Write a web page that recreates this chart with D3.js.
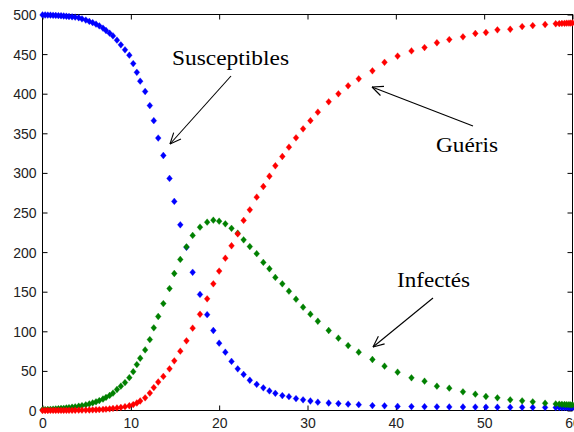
<!DOCTYPE html>
<html><head><meta charset="utf-8">
<script src="https://cdn.jsdelivr.net/npm/d3@7"></script>
<style>body{margin:0;background:#fff}svg{display:block}</style>
</head><body>
<svg id="c" width="574" height="432"></svg>
<script>
const time = [0,0.3,0.6,0.9,1.2,1.5,1.8,2.1,2.4,2.7,3.0,3.35,3.7,4.1,4.47,4.9,5.3,5.68,6.06,6.43,6.85,7.19,7.6,7.98,8.43,8.87,9.34,9.83,10.27,10.68,11.06,11.62,12.15,12.6,13.1,13.68,14.38,14.92,15.6,16.3,17.0,17.83,18.64,19.34,20.0,20.7,21.4,22.1,22.77,23.47,24.25,25.0,25.69,26.36,27.15,27.9,28.7,29.5,30.33,31.17,32.4,33.5,34.6,35.8,37.35,38.72,40.2,41.77,43.25,44.65,46.05,47.6,49.0,50.2,51.5,52.95,54.3,55.5,56.9,58.1,58.5,58.8,59.1,59.35,59.6,59.8,60];
const susceptibles = [499.5,499.4,499.3,499.2,499.0,498.8,498.6,498.4,498.1,497.8,497.5,497.1,496.6,495.9,494.5,493.0,491.3,489.7,487.8,485.7,482.7,479.8,476.4,473,467.6,461.7,455.4,448.6,438,427,415.8,402.8,385,366,344,322,293,264,234.5,206,174.5,146.5,121,101,85,73.6,62,52.6,45.5,38.2,33,28.6,24.7,21.7,18.8,17.5,15,13.5,12,10.5,9.5,8.8,8,7.4,6.2,5.9,5.2,5.0,4.8,4.6,4.5,4.4,4.3,4.2,4.1,4.0,4.0,3.9,3.9,3.8,3.8,3.7,3.7,3.7,3.6,3.6,3.6];
const infectes = [1,1.15,1.3,1.5,1.7,1.9,2.2,2.5,2.8,3.2,3.6,4.1,4.7,5.4,6.2,7.2,8.3,9.6,11,12.5,14.5,16.5,19,21.9,26.5,30.7,35.3,41.5,49,58,66,76.5,89.5,104.4,118.7,135,154,173,190.7,206.7,221,231.5,237.8,240.3,239,235.7,230,223.9,215.5,207,198,187,179,168,160,150.6,140.5,130.4,121.6,112.7,101,91.3,82,73.6,64.4,56,48.4,41.3,37,30.7,28.2,23.6,20.6,17.7,16,13.5,12.2,11,9.2,8.3,8.0,7.8,7.6,7.4,7.3,7.2,7.1];
const gueris = [0,0.01,0.02,0.035,0.05,0.07,0.09,0.11,0.14,0.17,0.2,0.25,0.3,0.37,0.45,0.55,0.65,0.8,0.95,1.15,1.4,1.7,2.1,2.6,3.2,3.9,4.8,6,7.5,9.5,12,16,22,29,36,43,52.6,62.7,74.9,88,104,121.5,141,160,176,192.3,208,223,240,253.4,269.4,282.8,295.8,309,320.7,332.5,344.3,355.6,366,376.7,389.8,399.9,410,418.8,428.9,439.6,447.5,454,458.3,464.3,468.4,471.8,476,477.3,480.6,481.4,484.8,486,487.4,488.3,488.5,488.7,488.9,489,489.1,489.2,489.3];
const xTicks = [0,10,20,30,40,50,60];
const yTicks = [0,50,100,150,200,250,300,350,400,450,500];
const series = [
  {name:"Susceptibles", values:susceptibles, color:"#0000ff"},
  {name:"Infectés", values:infectes, color:"#008000"},
  {name:"Guéris", values:gueris, color:"#ff0000"}
];
const notes = [
  {text:"Susceptibles", tx:172, ty:65, len:117, from:[231,76], to:[170,144]},
  {text:"Guéris", tx:436, ty:152, len:62, from:[473,126], to:[372,87]},
  {text:"Infectés", tx:397, ty:287, len:73, from:[433,298], to:[373,347]}
];

const svg = d3.select("#c");
const L = 42.5, R = 572.5, T = 14.5, B = 410.5;
const x = d3.scaleLinear().domain([0,60]).range([L,R]);
const y = d3.scaleLinear().domain([0,500]).range([B,T]);

svg.append("rect").attr("x",L).attr("y",T).attr("width",R-L).attr("height",B-T)
  .attr("fill","none").attr("stroke","#000").attr("stroke-width",1);

const axFont = "'Liberation Sans', Arial, sans-serif";
const gBottom = svg.append("g").attr("transform",`translate(0,${B})`)
  .call(d3.axisBottom(x).tickValues(xTicks).tickSizeInner(-5).tickSizeOuter(0).tickPadding(7));
const gLeft = svg.append("g").attr("transform",`translate(${L},0)`)
  .call(d3.axisLeft(y).tickValues(yTicks).tickSizeInner(-5).tickSizeOuter(0).tickPadding(6));
const gTop = svg.append("g").attr("transform",`translate(0,${T})`)
  .call(d3.axisTop(x).tickValues(xTicks).tickSizeInner(-5).tickSizeOuter(0).tickFormat(""));
const gRight = svg.append("g").attr("transform",`translate(${R},0)`)
  .call(d3.axisRight(y).tickValues(yTicks).tickSizeInner(-5).tickSizeOuter(0).tickFormat(""));
[gBottom,gLeft,gTop,gRight].forEach(g=>{
  g.select(".domain").remove();
  g.selectAll("line").attr("stroke","#000");
  g.selectAll("text").attr("font-family",axFont).attr("font-size",14).attr("fill","#222");
});
gLeft.selectAll("text").attr("dy","0.36em");
gBottom.selectAll("text").attr("dy","0.72em");

const diamond = "M0,-3.4L2.9,0L0,3.4L-2.9,0Z";
series.forEach(s=>{
  svg.append("g").selectAll("path").data(time.map((t,i)=>[t,s.values[i]])).join("path")
    .attr("d",diamond)
    .attr("transform",d=>`translate(${x(d[0])},${y(d[1])})`)
    .attr("fill",s.color).attr("stroke",s.color).attr("stroke-width",0.6).attr("stroke-opacity",0.5);
});

const serif = "'Liberation Serif', 'DejaVu Serif', serif";
notes.forEach(n=>{
  svg.append("text").attr("x",n.tx).attr("y",n.ty).text(n.text)
    .attr("font-family",serif).attr("font-size",21).attr("fill","#000")
    .attr("textLength",n.len).attr("lengthAdjust","spacingAndGlyphs");
  svg.append("line").attr("x1",n.from[0]).attr("y1",n.from[1]).attr("x2",n.to[0]).attr("y2",n.to[1])
    .attr("stroke","#000").attr("stroke-width",1.1);
  const ang = Math.atan2(n.from[1]-n.to[1], n.from[0]-n.to[0]);
  const hl = 12, ha = 0.42;
  [ang-ha, ang+ha].forEach(a=>{
    svg.append("line").attr("x1",n.to[0]).attr("y1",n.to[1])
      .attr("x2",n.to[0]+hl*Math.cos(a)).attr("y2",n.to[1]+hl*Math.sin(a))
      .attr("stroke","#000").attr("stroke-width",1.1);
  });
});
</script>
</body></html>
